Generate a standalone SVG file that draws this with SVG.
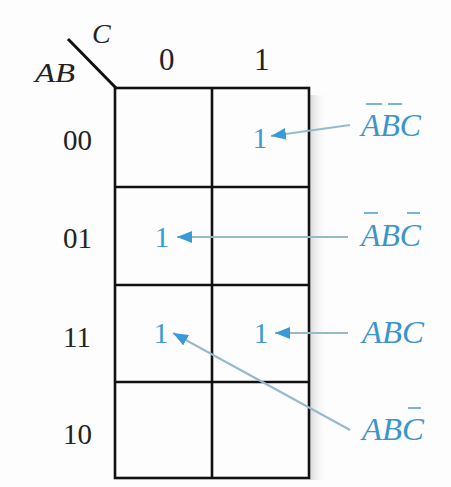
<svg xmlns="http://www.w3.org/2000/svg" width="451" height="487" viewBox="0 0 451 487">
  <style>
    .grid { stroke: #111; stroke-width: 2.6; fill: none; }
    .hdr { font-family: "Liberation Serif", "Times New Roman", serif; font-size: 31px; fill: #222; }
    .rl { font-family: "Liberation Serif", "Times New Roman", serif; font-size: 29px; fill: #222; }
    .var { font-family: "Liberation Serif", "Times New Roman", serif; font-style: italic; font-size: 28px; fill: #222; }
    .one { font-family: "Liberation Serif", "Times New Roman", serif; font-size: 30px; fill: #3d9ad4; text-anchor: middle; }
    .lbl { font-family: "Liberation Serif", "Times New Roman", serif; font-style: italic; font-size: 31px; fill: #3d94cc; }
    .bar { stroke: #3d94cc; stroke-width: 1.4; }
    .conn { stroke: #98b8cc; stroke-width: 2; fill: none; marker-end: url(#ah); }
  </style>
  <defs>
    <marker id="ah" markerWidth="16" markerHeight="12" refX="15" refY="6" orient="auto" markerUnits="userSpaceOnUse">
      <path d="M0,0 L15,6 L0,12 Z" fill="#3b9ad6"/>
    </marker>
    <linearGradient id="shade" x1="0" y1="0" x2="1" y2="0">
      <stop offset="0" stop-color="#d6d6d6" stop-opacity="0.9"/>
      <stop offset="1" stop-color="#ffffff" stop-opacity="0"/>
    </linearGradient>
  </defs>
  <rect x="0" y="0" width="451" height="487" fill="#fdfdfd"/>
  <rect x="310" y="95" width="18" height="385" fill="url(#shade)"/>

  <g id="header">
    <line x1="68" y1="39" x2="116" y2="88" stroke="#111" stroke-width="3"/>
    <text class="var" x="92" y="43">C</text>
    <text class="var" x="35" y="82" textLength="40" lengthAdjust="spacingAndGlyphs">AB</text>
    <text class="hdr" x="159" y="70">0</text>
    <text class="hdr" x="254" y="70">1</text>
  </g>

  <g id="rowlabels">
    <text class="rl" x="63" y="150">00</text>
    <text class="rl" x="63" y="248">01</text>
    <text class="rl" x="63" y="347">11</text>
    <text class="rl" x="63" y="444">10</text>
  </g>

  <g id="kmap">
    <rect class="grid" x="115" y="88" width="194" height="390"/>
    <line class="grid" x1="212" y1="88" x2="212" y2="478"/>
    <line class="grid" x1="115" y1="187" x2="309" y2="187"/>
    <line class="grid" x1="115" y1="285" x2="309" y2="285"/>
    <line class="grid" x1="115" y1="382" x2="309" y2="382"/>
  </g>

  <g id="cells">
    <text class="one" x="260" y="148">1</text>
    <text class="one" x="162" y="247">1</text>
    <text class="one" x="161" y="343">1</text>
    <text class="one" x="261" y="343">1</text>
  </g>

  <g id="connectors">
    <line class="conn" x1="350" y1="125" x2="271" y2="136"/>
    <line class="conn" x1="348" y1="237" x2="177" y2="237"/>
    <line class="conn" x1="348" y1="333" x2="275" y2="333"/>
    <line class="conn" x1="350" y1="430" x2="173" y2="333"/>
  </g>

  <g id="label-AbarBbarC">
    <text class="lbl" x="361" y="136" textLength="60" lengthAdjust="spacingAndGlyphs">ABC</text>
    <line class="bar" x1="366" y1="104" x2="382" y2="104"/>
    <line class="bar" x1="388" y1="104" x2="402" y2="104"/>
  </g>
  <g id="label-AbarBCbar">
    <text class="lbl" x="361" y="246" textLength="60" lengthAdjust="spacingAndGlyphs">ABC</text>
    <line class="bar" x1="364" y1="213" x2="378" y2="213"/>
    <line class="bar" x1="407" y1="213" x2="420" y2="213"/>
  </g>
  <g id="label-ABC">
    <text class="lbl" x="362" y="343" textLength="62" lengthAdjust="spacingAndGlyphs">ABC</text>
  </g>
  <g id="label-ABCbar">
    <text class="lbl" x="362" y="440" textLength="62" lengthAdjust="spacingAndGlyphs">ABC</text>
    <line class="bar" x1="408" y1="408" x2="421" y2="408"/>
  </g>
</svg>
